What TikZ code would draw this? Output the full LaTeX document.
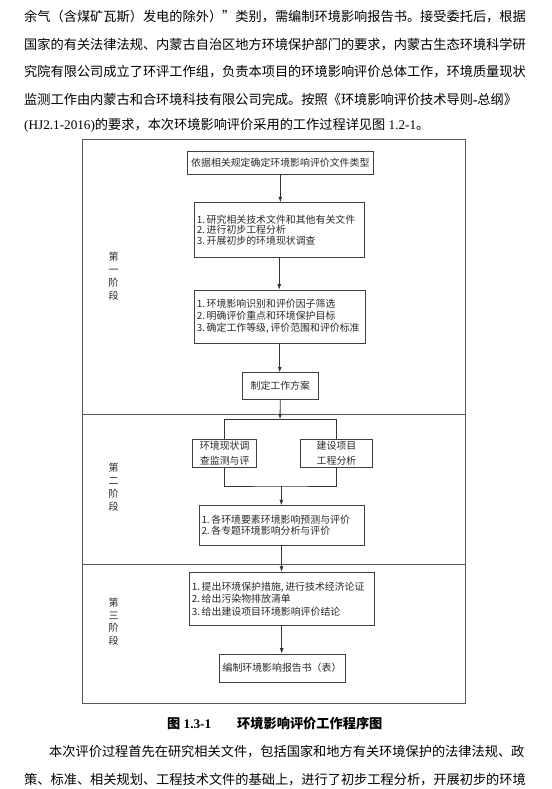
\documentclass[tikz,border=0pt]{standalone}
\usepackage{fontspec}
\setmainfont{Liberation Serif}
\newfontfamily\cjk{Noto Sans CJK SC}
\usetikzlibrary{arrows.meta}
\XeTeXlinebreaklocale "zh"
\XeTeXlinebreakskip=0pt plus 4pt
\definecolor{boxc}{HTML}{404040}
\definecolor{linec}{HTML}{333333}
\definecolor{framec}{HTML}{5A5A5A}
\definecolor{txtc}{HTML}{2A2A2A}
\begin{document}
\begin{tikzpicture}[x=1pt,y=-1pt,
  box/.style={draw=boxc, line width=0.8pt, inner xsep=1.5pt, inner ysep=1pt, text=txtc},
  lbox/.style={box, inner xsep=2.5pt, align=left},
  arr/.style={draw=linec, line width=0.8pt, -{Latex[length=5.5pt,width=4pt]}},
  ln/.style={draw=linec, line width=0.8pt},
  stage/.style={align=center, text=txtc, inner sep=0pt},
  body/.style={font=\fontsize{13.2}{13.2}\cjk, anchor=base west, inner sep=0pt, text=black},
]
\useasboundingbox[fill=white] (0,0) rectangle (551,789);

% ---- running text above ----
\node[body] (t1) at (24,21.8) {\makebox[502pt][s]{余气（含煤矿瓦斯）发电的除外）”类别，需编制环境影响报告书。接受委托后，根据}};
\node[body] (t2) at (24,49.9) {\makebox[502pt][s]{国家的有关法律法规、内蒙古自治区地方环境保护部门的要求，内蒙古生态环境科学研}};
\node[body] (t3) at (24,76.9) {\makebox[502pt][s]{究院有限公司成立了环评工作组，负责本项目的环境影响评价总体工作，环境质量现状}};
\node[body] (t4) at (24,105) {\makebox[502pt][s]{监测工作由内蒙古和合环境科技有限公司完成。按照《环境影响评价技术导则{\rmfamily\bfseries -}总纲》}};
\node[body] (t5) at (24,129.6) {{\rmfamily (HJ2.1-2016)}的要求，本次环境影响评价采用的工作过程详见图{\rmfamily\ 1.2-1}。};

% ---- frame ----
\draw[draw=framec, line width=0.9pt] (82.7,139.7) rectangle (465.5,703.3);
\draw[draw=framec, line width=0.9pt] (82.7,414) -- (465.5,414);
\draw[draw=framec, line width=0.9pt] (82.7,564) -- (465.5,564);

% ---- stage labels ----
\node[stage, font=\fontsize{10}{12.8}\cjk] (s1) at (113.5,276) {第\\一\\阶\\段};
\node[stage, font=\fontsize{10}{13}\cjk] (s2) at (113.5,487) {第\\二\\阶\\段};
\node[stage, font=\fontsize{10}{12.4}\cjk] (s3) at (113.5,621.7) {第\\三\\阶\\段};

% ---- boxes ----
\node[box, font=\fontsize{9.9}{10.5}\cjk, minimum width=186pt, minimum height=23.3pt] (b1) at (280.3,162.7)
  {依据相关规定确定环境影响评价文件类型};
\node[lbox, font=\fontsize{9.9}{10.5}\cjk, text width=164.7pt, minimum height=55pt] (b2) at (279.2,230.2)
  {\mbox{1.\,研究相关技术文件和其他有关文件}\\\mbox{2.\,进行初步工程分析}\\\mbox{3.\,开展初步的环境现状调查}};
\node[lbox, font=\fontsize{9.9}{12}\cjk, text width=165.7pt, minimum height=53.3pt] (b3) at (279.7,316.7)
  {\mbox{1.\,环境影响识别和评价因子筛选}\\\mbox{2.\,明确评价重点和环境保护目标}\\\mbox{3.\,确定工作等级,\,评价范围和评价标准}};
\node[box, font=\fontsize{9.9}{10.5}\cjk, minimum width=75.3pt, minimum height=26.6pt] (b4) at (280.3,386)
  {制定工作方案};
\node[box, font=\fontsize{9.9}{14.3}\cjk, minimum width=64pt, minimum height=28pt, align=center] (b5) at (224.7,453.3)
  {环境现状调\\查监测与评};
\node[box, font=\fontsize{9.9}{14.3}\cjk, minimum width=71.6pt, minimum height=28pt, align=center] (b6) at (336.5,453.3)
  {建设项目\\工程分析};
\node[lbox, font=\fontsize{9.9}{11.7}\cjk, text width=160pt, minimum height=39.3pt] (b7) at (281.5,525.3)
  {\mbox{1.\,各环境要素环境影响预测与评价}\\\mbox{2.\,各专题环境影响分析与评价}};
\node[lbox, font=\fontsize{9.9}{12.7}\cjk, text width=179.7pt, minimum height=53.4pt] (b8) at (281.7,599)
  {\mbox{1.\,提出环境保护措施,\,进行技术经济论证}\\\mbox{2.\,给出污染物排放清单}\\\mbox{3.\,给出建设项目环境影响评价结论}};
\node[box, font=\fontsize{9.9}{10.5}\cjk, minimum width=126pt, minimum height=28pt] (b9) at (282,668)
  {编制环境影响报告书（表）};

% ---- connectors ----
\coordinate (split) at (280,419.3);
\coordinate (join) at (281.3,486);
\draw[arr] (b1.south) -- (b1.south |- b2.north);
\draw[arr] (b2.south) -- (b2.south |- b3.north);
\draw[arr] (b3.south) -- (b3.south |- b4.north);
\draw[arr] (b4.south) -- (split);
\draw[ln] (b5.north) |- (split) -| (b6.north);
\draw[ln] (b5.south) |- (join) -| (b6.south);
\draw[arr] (join) -- (join |- b7.north);
\draw[arr] (b7.south) -- (b7.south |- b8.north);
\draw[arr] (b8.south) -- (b8.south |- b9.north);

% ---- caption ----
\node[body, font=\fontsize{13.2}{13.2}\cjk\bfseries] (c1) at (167,728) {图{\rmfamily\bfseries\ 1.3-1}};
\node[body, font=\fontsize{13.2}{13.2}\cjk\bfseries] (c2) at (237,728) {环境影响评价工作程序图};

% ---- running text below ----
\node[body] (u1) at (49,756.4) {\makebox[477pt][s]{本次评价过程首先在研究相关文件，包括国家和地方有关环境保护的法律法规、政}};
\node[body] (u2) at (24,784.5) {\makebox[502pt][s]{策、标准、相关规划、工程技术文件的基础上，进行了初步工程分析，开展初步的环境}};
\end{tikzpicture}
\end{document}
